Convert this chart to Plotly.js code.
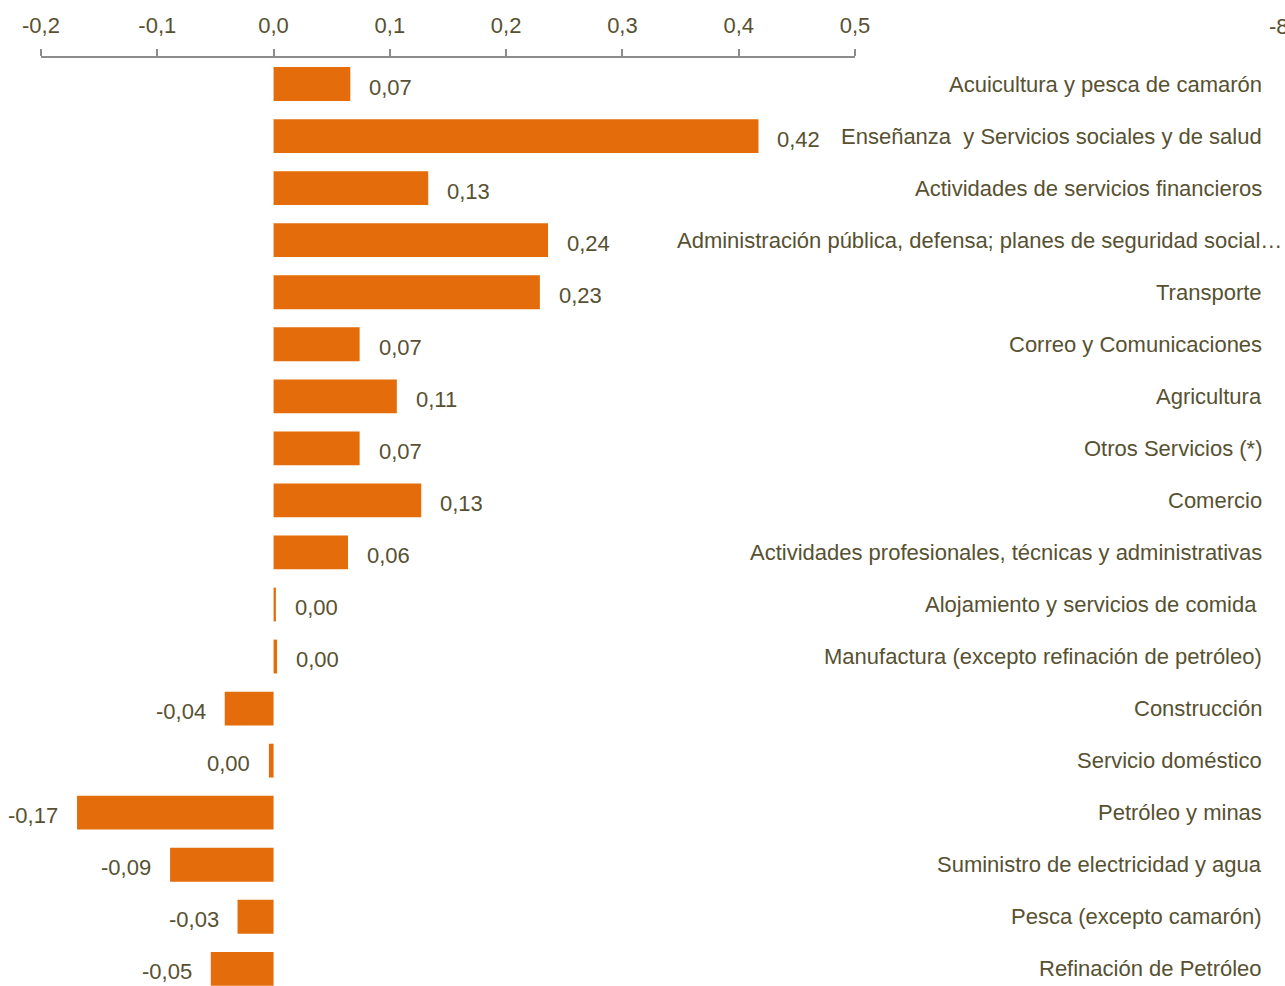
<!DOCTYPE html>
<html>
<head>
<meta charset="utf-8">
<script src="https://cdn.plot.ly/plotly-3.0.1.min.js"></script>
<style>html,body{margin:0;padding:0;overflow:hidden;background:#fff;}</style>
</head>
<body>
<div id="chart" style="width:1285px;height:986px;"></div>
<script>
const categories = [
  "Acuicultura y pesca de camarón",
  "Enseñanza\u00a0 y Servicios sociales y de salud",
  "Actividades de servicios financieros",
  "Administración pública, defensa; planes de seguridad social…",
  "Transporte",
  "Correo y Comunicaciones",
  "Agricultura",
  "Otros Servicios (*)",
  "Comercio",
  "Actividades profesionales, técnicas y administrativas",
  "Alojamiento y servicios de comida\u00a0",
  "Manufactura (excepto refinación de petróleo)",
  "Construcción",
  "Servicio doméstico",
  "Petróleo y minas",
  "Suministro de electricidad y agua",
  "Pesca (excepto camarón)",
  "Refinación de Petróleo"
];
const values = [0.066, 0.417, 0.133, 0.236, 0.229, 0.074, 0.106, 0.074, 0.127, 0.064,
                0.002, 0.003, -0.042, -0.004, -0.169, -0.089, -0.031, -0.054];
const tickValues = [-0.2, -0.1, 0.0, 0.1, 0.2, 0.3, 0.4, 0.5];
const tickLabels = ["-0,2", "-0,1", "0,0", "0,1", "0,2", "0,3", "0,4", "0,5"];

const textColor = "#575131";
const fontFam = "Liberation Sans, Arial, sans-serif";

function fmt(v) {
  let s = v.toFixed(2);
  if (parseFloat(s) === 0) s = "0.00";
  return s.replace(".", ",");
}

const yIdx = categories.map((c, i) => i);

const trace = {
  type: "bar",
  orientation: "h",
  x: values,
  y: yIdx,
  marker: { color: "#E46C0A" },
  width: 0.65,
  hoverinfo: "skip"
};

const annotations = [];
values.forEach((v, i) => {
  annotations.push({
    x: v, y: i, xref: "x", yref: "y",
    text: fmt(v), showarrow: false,
    xanchor: v >= 0 ? "left" : "right",
    xshift: v >= 0 ? 17 : -17,
    yshift: -3,
    font: { family: fontFam, size: 22, color: textColor }
  });
});
const plotL = 41, plotR = 855;
function paperX(px) { return (px - plotL) / (plotR - plotL); }
categories.forEach((c, i) => {
  const long = c.endsWith("…");
  annotations.push({
    x: paperX(long ? 1284 : 1264), y: i, xref: "paper", yref: "y",
    text: c, showarrow: false, xanchor: "right",
    font: { family: fontFam, size: 22, color: textColor }
  });
});
annotations.push({
  x: paperX(1267), y: 1, xref: "paper", yref: "paper", yanchor: "bottom", yshift: 17,
  text: "-8", showarrow: false, xanchor: "left",
  font: { family: fontFam, size: 22, color: textColor }
});

const layout = {
  width: 1285, height: 986,
  margin: { l: plotL, r: 1285 - plotR, t: 58, b: 0, pad: 0 },
  paper_bgcolor: "#fff", plot_bgcolor: "#fff",
  showlegend: false,
  bargap: 0.35,
  xaxis: {
    side: "top",
    range: [-0.2, 0.5],
    tickvals: tickValues, ticktext: tickLabels,
    showgrid: false, zeroline: false,
    showline: true, linecolor: "#8c8c8c", linewidth: 2,
    ticks: "outside", ticklen: 7, tickwidth: 2, tickcolor: "#8c8c8c",
    ticklabelstandoff: 7,
    tickfont: { family: fontFam, size: 22, color: textColor },
    fixedrange: true
  },
  yaxis: {
    range: [17.33, -0.5],
    showticklabels: false, showgrid: false, zeroline: false, showline: false,
    ticks: "", fixedrange: true
  },
  annotations: annotations
};

Plotly.newPlot("chart", [trace], layout, { displayModeBar: false, staticPlot: true });
</script>
</body>
</html>
